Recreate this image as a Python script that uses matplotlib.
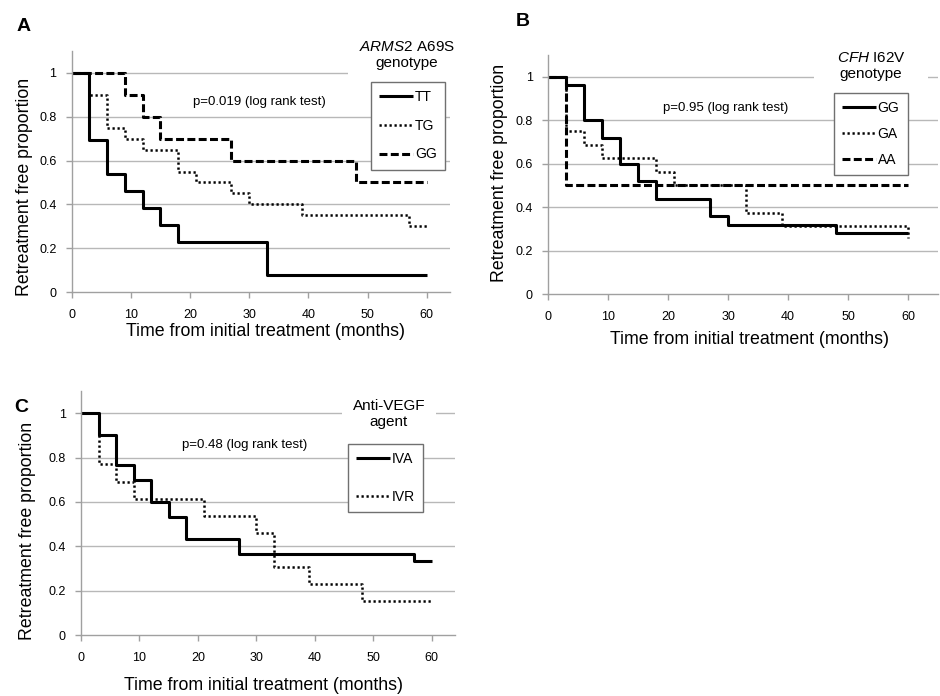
import matplotlib
matplotlib.use('Agg')

import numpy as np
import matplotlib.pyplot as plt

plt.rcParams['font.family'] = ['Liberation Sans', 'DejaVu Sans']
plt.rcParams['mathtext.fontset'] = 'custom'
plt.rcParams['mathtext.rm'] = 'Liberation Sans'
plt.rcParams['mathtext.it'] = 'Liberation Sans:italic'

# Panel A - ARMS2 A69S genotype
a_tt_t = [0, 3, 6, 9, 12, 15, 18, 33, 60]
a_tt_s = [1, 0.692, 0.538, 0.462, 0.385, 0.308, 0.231, 0.077, 0.077]
a_tg_t = [0, 3, 6, 9, 12, 18, 21, 27, 30, 39, 57, 60]
a_tg_s = [1, 0.90, 0.75, 0.70, 0.65, 0.55, 0.50, 0.45, 0.40, 0.35, 0.30, 0.30]
a_gg_t = [0, 9, 12, 15, 27, 48, 60]
a_gg_s = [1, 0.9, 0.8, 0.7, 0.6, 0.5, 0.5]
a_labels = ['TT', 'TG', 'GG']

# Panel B - CFH I62V genotype
b_gg_t = [0, 3, 6, 9, 12, 15, 18, 27, 30, 48, 60]
b_gg_s = [1, 0.96, 0.80, 0.72, 0.60, 0.52, 0.44, 0.36, 0.32, 0.28, 0.28]
b_ga_t = [0, 3, 6, 9, 18, 21, 33, 39, 60, 60]
b_ga_s = [1, 0.75, 0.6875, 0.625, 0.5625, 0.50, 0.375, 0.3125, 0.3125, 0.26]
b_aa_t = [0, 3, 60]
b_aa_s = [1, 0.5, 0.5]
b_labels = ['GG', 'GA', 'AA']

# Panel C - Anti-VEGF agent
c_iva_t = [0, 3, 6, 9, 12, 15, 18, 27, 57, 60]
c_iva_s = [1, 0.90, 0.767, 0.70, 0.60, 0.533, 0.433, 0.367, 0.333, 0.333]
c_ivr_t = [0, 3, 6, 9, 21, 30, 33, 39, 48, 60]
c_ivr_s = [1, 0.769, 0.692, 0.615, 0.538, 0.462, 0.308, 0.231, 0.154, 0.154]
c_labels = ['IVA', 'IVR']

x_ticks = [0, 10, 20, 30, 40, 50, 60]
y_ticks = [0, 0.2, 0.4, 0.6, 0.8, 1]
y_ticklabels = ['0', '0.2', '0.4', '0.6', '0.8', '1']

W, H = 940.0, 696.0
GRID = '#b8b8b8'
SPINE = '#a0a0a0'
LABEL_FS = 12.8

# line styles: solid, dotted, dashed (as in the figure)
styles = [dict(ls='-', lw=2.2),
          dict(ls=(0, (0.9, 1.1)), lw=1.8),
          dict(ls=(0, (2.6, 1.1)), lw=2.2)]


def fx(px):
	return px / W


def fy(py):
	return 1 - py / H


def setup_axes(fig, left, bottom_px, right_px, top_px, xmax):
	ax = fig.add_axes([fx(left), fy(bottom_px), fx(right_px - left), (bottom_px - top_px) / H])
	ax.set_xlim(0, xmax)
	ax.set_ylim(0, 1.1)
	ax.set_xticks(x_ticks)
	ax.set_yticks(y_ticks)
	ax.set_yticklabels(y_ticklabels)
	for s in ['top', 'right']:
		ax.spines[s].set_visible(False)
	for s in ['left', 'bottom']:
		ax.spines[s].set_color(SPINE)
		ax.spines[s].set_linewidth(1.0)
	ax.tick_params(axis='both', direction='out', length=4, width=1, color=SPINE, labelsize=9, pad=7)
	ax.tick_params(axis='x', pad=8)
	for yv in y_ticks[1:]:
		ax.axhline(yv, color=GRID, lw=1.0, zorder=0)
	return ax


def plot_curves(ax, curves):
	lines = []
	for (t, s), st in zip(curves, styles):
		ln, = ax.step(t, s, where='post', color='black', solid_capstyle='butt', dash_capstyle='butt', **st)
		lines.append(ln)
	return lines


def add_legend(fig, ax, lines, labels, x_px, y_px, spacing):
	leg = ax.legend(lines, labels, loc='upper left', bbox_to_anchor=(fx(x_px), fy(y_px)),
		bbox_transform=fig.transFigure, borderaxespad=0, fontsize=10, frameon=True,
		fancybox=False, framealpha=1, edgecolor='#707070', handlelength=2.4,
		handletextpad=0.15, labelspacing=spacing, borderpad=0.6)
	leg.get_frame().set_linewidth(1.0)
	leg.set_zorder(6)
	return leg


def add_title(fig, ax, x_px, y_px, txt, pad):
	# white box hides the gridline behind the legend title, legend stays on top
	ax.text(fx(x_px), fy(y_px), txt, transform=fig.transFigure, ha='center', va='center',
		fontsize=11, linespacing=1.1, zorder=4, clip_on=False,
		bbox=dict(boxstyle='square,pad=%s' % pad, fc='white', ec='none'))


fig = plt.figure(figsize=(9.4, 6.96), dpi=100)

# ---- Panel A
axA = setup_axes(fig, 71.7, 292.3, 450.4, 50.7, 64)
lA = plot_curves(axA, [(a_tt_t, a_tt_s), (a_tg_t, a_tg_s), (a_gg_t, a_gg_s)])
add_legend(fig, axA, lA, a_labels, 371, 82, 1.05)
add_title(fig, axA, 407, 55, '$\\it{ARMS2}$ A69S\ngenotype', 0.7)
fig.text(fx(259.7), fy(102.3), 'p=0.019 (log rank test)', ha='center', va='center', fontsize=9.5)
fig.text(fx(24), fy(26.5), 'A', ha='center', va='center', fontsize=14, fontweight='bold')
fig.text(fx(25), fy(186.5), 'Retreatment free proportion', rotation=90, ha='center', va='center', fontsize=LABEL_FS)
fig.text(fx(265.9), fy(331.7), 'Time from initial treatment (months)', ha='center', va='center', fontsize=LABEL_FS)

# ---- Panel B
axB = setup_axes(fig, 548.0, 294.3, 938.0, 54.9, 65)
lB = plot_curves(axB, [(b_gg_t, b_gg_s), (b_ga_t, b_ga_s), (b_aa_t, b_aa_s)])
add_legend(fig, axB, lB, b_labels, 834, 93, 0.85)
add_title(fig, axB, 871, 66, '$\\it{CFH}$ I62V\ngenotype', 1.5)
fig.text(fx(726), fy(108.3), 'p=0.95 (log rank test)', ha='center', va='center', fontsize=9.5)
fig.text(fx(523), fy(21), 'B', ha='center', va='center', fontsize=14, fontweight='bold')
fig.text(fx(500), fy(172.5), 'Retreatment free proportion', rotation=90, ha='center', va='center', fontsize=LABEL_FS)
fig.text(fx(750), fy(340), 'Time from initial treatment (months)', ha='center', va='center', fontsize=LABEL_FS)

# ---- Panel C
axC = setup_axes(fig, 81.0, 635.0, 455.0, 391.1, 64)
lC = plot_curves(axC, [(c_iva_t, c_iva_s), (c_ivr_t, c_ivr_s)])
add_legend(fig, axC, lC, c_labels, 348, 444, 1.7)
add_title(fig, axC, 389, 414, 'Anti-VEGF\nagent', 0.7)
fig.text(fx(245), fy(445), 'p=0.48 (log rank test)', ha='center', va='center', fontsize=9.5)
fig.text(fx(21), fy(408), 'C', ha='center', va='center', fontsize=14, fontweight='bold')
fig.text(fx(28), fy(531), 'Retreatment free proportion', rotation=90, ha='center', va='center', fontsize=LABEL_FS)
fig.text(fx(263.3), fy(685), 'Time from initial treatment (months)', ha='center', va='center', fontsize=LABEL_FS)

fig.savefig('out.png', dpi=100)
